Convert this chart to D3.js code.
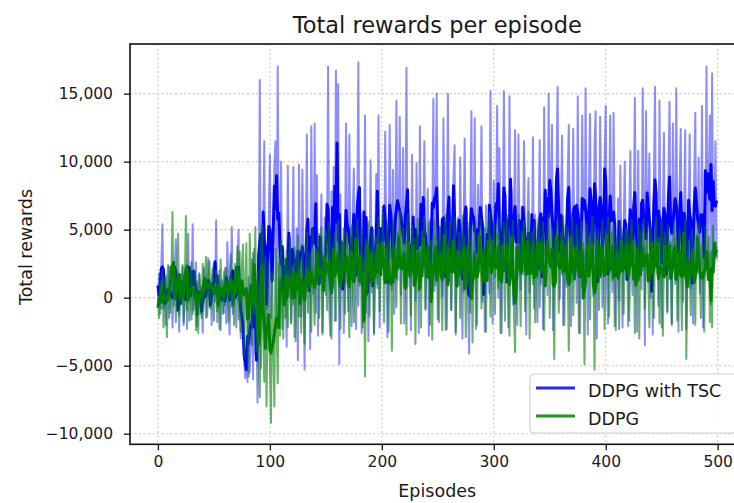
<!DOCTYPE html>
<html>
<head>
<meta charset="utf-8">
<script src="https://cdn.jsdelivr.net/npm/d3@7/dist/d3.min.js"></script>
<style>
  html, body { margin: 0; padding: 0; background: #fff; }
  svg { display: block; font-family: "DejaVu Sans", sans-serif; }
</style>
</head>
<body>
<svg id="chart" width="734" height="503"></svg>
<script>
// Total rewards per episode for the two agents (episodes 0..499)
const seriesNames = ["DDPG with TSC", "DDPG"];
const seriesColors = ["#0000ff", "#008000"];

const rewardsTSC = [
  0, 1800, -1200, 2200, 5400, -800, 1500, -2000, 900, 2400, -1500, 600, 1900, -2200, 300, 2100, 4300, -1000, 800, -2500,
  1600, -400, 2300, -1800, 700, 1200, -2300, 4700, 200, 1800, -1600, 5400, -900, 1300, 2600, -2100, 500, 1700, -1200, 800,
  -2600, 2200, 300, -1500, 1600, 2900, -700, 1100, -2000, 1400, 2500, -300, 5700, -1800, 900, 2000, -2400, 1300, 600, -1100,
  2200, -1900, 4100, 700, -2700, 1500, 5200, -1200, 1900, 300, -2200, 2600, 5000, -900, -3000, 1200, -2400, -4500, -5900, -3800,
  -6200, 1500, -5500, -3300, 2800, -6000, 3600, -4100, -2000, -7700, 1200, 16000, -5200, 3200, 4200, 11500, -3000, 2400, -800, 6000,
  10500, -1500, 1800, 3400, 9700, 11500, -1600, 17000, 1900, -300, 10000, -2300, 3600, 900, 2300, -3600, 9700, 100, 4400, -1800,
  2800, 9600, -2900, 1600, 5100, -4600, 9800, 1400, -1400, 9400, 3200, -5300, 1700, 12000, 800, 4500, -3800, 12600, 2200, 300,
  12800, -1100, 9000, -2800, 4700, 1100, 7600, -2500, 2600, 5900, 200, 3400, 17000, -800, -2800, 7800, 2500, 9600, -1700, 16700,
  1700, 15700, -4900, 7600, 600, 3900, -2600, 2100, 12800, 4300, -1000, 12000, 1500, -2100, 6200, 9500, 2700, -2300, 4600, 17300,
  900, 6100, -2600, 3700, 1800, 13400, -1100, 5400, -3200, 2800, 10100, 400, 4900, -2700, 3200, 9100, 1000, 13400, -2200, 4100,
  4400, 6700, 1300, 12200, 3600, -2900, 2700, 12700, 5000, 600, 9400, -1200, 3800, 14500, 1300, 5600, 13300, 200, 4400, 11000,
  -1900, 2900, 16900, 800, 6100, 3300, -2400, 10500, 2000, 5300, -200, 9900, 3500, -2600, 12600, 1600, 6400, 4200, 11500, -900,
  3000, 8000, -2800, 5700, 1400, 4800, 14600, 500, 6900, 15000, 2300, -1800, 5200, 3900, 100, 13200, 4300, -2400, 2700, 15000,
  1200, 6000, -900, 4700, 8800, 11200, -2500, 3400, 5900, 900, 10300, 2500, -3000, 4600, 11700, 1800, 6500, -600, -4100, 5200,
  13700, 700, 3800, 13200, -2300, 4100, 8300, 1900, 5400, 12600, -300, 3500, -2500, 6800, 2200, 4900, 300, 15200, 3100, -1900,
  8600, 1500, 5100, 14100, 0, 11000, 4000, -2600, 2800, 15200, 6200, 1100, 4600, -2200, 14800, 3300, 8000, -500, 5700, 12300,
  2100, -2000, 12000, 4400, 600, 6700, 1700, 11500, 3600, -2700, 5000, 8800, 400, 4200, 2300, 11800, -800, 6100, 3500, -1800,
  4700, 11600, 1000, 5900, -2300, 14000, 3100, 6600, 200, 15000, 2600, 8300, 12700, -2400, 4000, 1400, 9200, 15500, 3700, -100,
  6400, 11900, -2000, 2700, 5300, 800, 8600, 12700, 3000, -2100, 4800, 12400, 1600, 6000, -400, 14800, 4300, -2600, 2900, 13400,
  5600, 500, 15400, 3800, -2700, 8100, 13500, 2400, 5000, 100, 11300, 13700, -3000, 4500, 2000, 13300, 6800, -700, 3900, 10400,
  14100, 1300, -1900, 5800, 13400, 3200, 400, 13600, 4900, -2400, 2500, 7300, -200, 9700, 3600, -2200, 5100, 10000, 1900, 4200,
  -2100, 6000, 10800, 2600, 200, 5400, 14700, 3100, -2500, 10800, 1700, 4800, 600, 15400, 5500, -3500, 13700, 2800, 6600, 10600,
  0, 4100, -2700, 8200, 15500, 2300, 5200, -600, 14500, 3700, -2200, 6100, 12100, 1500, 4700, -1000, 8900, 14400, 3300, -1900,
  12800, 5400, 1000, 15400, 4000, -2500, 8300, 12400, 2500, -300, 6600, 12300, -2300, 3700, 5800, 12000, 700, 4400, -1900, 8500,
  13600, 2100, 5300, 10300, 300, 3900, 14100, -2200, 6400, 4600, 17000, 1600, 8800, 13400, -500, 16500, 3200, 5900, 11500, 2800
];

const rewardsDDPG = [
  0, -1500, 1200, -800, 2000, -2200, 900, 1600, -2900, 500, 2300, -1100, 1400, 6300, -600, 2100, -1800, 800, 4700, -1300,
  1700, -500, 2400, -2000, 1000, 6000, -900, 1900, -1700, 700, 2600, -1200, 300, 2000, -2400, 1200, -2600, 1800, 400, -1500,
  2500, -300, 1500, 3000, -1400, 900, 2700, -800, 1300, 2200, -1700, 600, 2000, -1000, 1600, -2300, 2800, 300, -1200, 1900,
  -600, 2200, 900, -1800, 1500, 3200, -700, 1100, -2000, 2500, 400, 3800, -1600, 3400, -2500, 2300, 3900, -4300, 1000, 4000,
  -3000, -5800, 4700, 1500, -3500, 3300, -1200, 5200, -4000, 2000, -5000, -7300, 4100, 5400, -2500, -6200, 3000, -8000, -1500, 2600,
  -4800, -9200, 1800, -3500, -8000, 3600, -1800, -6300, 2500, -2800, 4200, 800, -3000, 2900, -1500, 3500, -2200, 1000, 4400, -1900,
  2300, -500, 3700, -3200, 1500, 4600, -1400, 2700, -2600, 3900, 500, -3400, 2400, 4800, -1100, 1800, 3300, -2500, 5000, 700,
  -2000, 3600, 1600, 4500, -1500, 2800, 5200, -2700, 3100, 1200, 4900, -900, 2500, 5500, 200, -3000, 3800, 1900, 4700, -1700,
  3400, 5700, 600, -2300, 4200, 2200, 5100, -1200, 3000, 4600, 1400, -2900, 3900, 5300, 900, -1800, 4400, 2600, 5800, -600,
  3300, 1000, 4900, -2200, 2800, -5800, 4300, 2000, 5600, -1400, 3500, 1300, 5000, -2600, 2700, 4500, 700, 5900, -1000, 3600,
  2400, 6200, -1800, 3900, 1200, 5400, -2500, 4100, 2900, -3900, 5700, 1600, 3600, -700, 4800, 2300, 6400, -1900, 3200, 5100,
  800, 4000, -2700, 6100, 2600, 3400, -1300, 5300, 1800, 4300, -3400, 3000, 5800, 500, 3700, -2200, 4900, 2100, 6000, -800,
  3800, 1500, 5500, -2000, 4200, -3100, 3100, 5700, 900, 4600, -1600, 2800, 5200, 2000, -2400, 4400, 3300, 6100, -2300, 3900,
  1200, 5600, -900, 4100, 2500, 5900, -2700, 3500, 1700, 4800, -1500, 3200, 6000, 400, 4500, -2900, 3700, 2200, 5500, -1100,
  4200, -3300, 2700, 5300, 1900, -2000, 4700, 3000, 5800, -800, 3600, 1100, 5100, -2500, 3900, 2400, 6200, -1400, 4300, 2600,
  5400, -1200, 3100, 4700, 700, 5900, -2600, 3800, 2200, 5500, -1700, 4100, 6000, 1300, -2800, 4400, 3300, 5700, -900, -4000,
  3700, 1500, 6100, 2700, -2100, 4900, 3200, 5600, -1000, 4000, 2100, 6300, -3000, 3500, 4800, 1000, 5200, -1800, 3900, 2600,
  5800, -700, 4300, 2300, 5500, -2400, 3600, 1400, 4900, 6100, -1500, 3200, 5000, 2500, -4500, 4500, 3400, 5700, -1100, 2800,
  4700, 1700, 6000, -2000, 3800, 5200, 2400, -3900, 4400, 3000, 5900, -1300, 3500, 1900, 5300, 4100, -2600, 3300, 5600, 800,
  4000, -4900, 2900, 5400, 1800, 4600, -1600, 3700, 6000, 2100, -5300, 4300, 3100, 5000, -900, 3900, 1600, 5700, 2700, -2300,
  4500, 3400, 5900, -1400, 2800, 4800, 1300, 5300, -2100, 3700, 4400, 2200, -2300, 5500, 3000, 4100, -1200, 3600, 5100, 1900,
  4600, -1700, 3300, 5700, 2500, 4200, -2600, 3800, 1500, 5400, -3000, 4900, 3100, 2000, 5800, -800, 3600, 4700, 1200, -2200,
  5200, 2900, 4000, -1500, 3700, 5900, 1700, 4400, -1900, 3200, 5500, -2800, 2600, 4800, 3900, -1100, 5300, 2100, 4100, -2000,
  3500, 5600, 1400, 4300, -1700, 3000, 5100, 2300, -2400, 4700, 3800, 5800, -4500, 2700, 4200, 1600, -1300, 5000, 3300, 2000,
  -2000, 4600, 3100, 5500, 1800, -1500, 4000, 2900, -2500, 5200, 3700, 1300, 4500, -1800, 3400, -2200, 5300, 2500, 4100, 3000
];

const xTicks = [0, 100, 200, 300, 400, 500];
const yTicks = [-10000, -5000, 0, 5000, 10000, 15000];

const episodes = rewardsTSC.map((_, i) => i);

// centred moving average used for the heavy trend line
function movingAverage(values, win) {
  const half = Math.floor(win / 2);
  return values.map((_, i) =>
    d3.mean(values.slice(Math.max(0, i - half), Math.min(values.length, i + half + 1))));
}

const svg = d3.select("#chart");
const plot = { left: 130, top: 44, right: 744.5, bottom: 444.3 };

const x = d3.scaleLinear().domain([-24.95, 523.95]).range([plot.left, plot.right]);
const y = d3.scaleLinear().domain([-10780, 18650]).range([plot.bottom, plot.top]);

svg.append("defs").append("clipPath").attr("id", "plotClip")
  .append("rect")
  .attr("x", plot.left).attr("y", plot.top)
  .attr("width", plot.right - plot.left).attr("height", plot.bottom - plot.top);

// grid
const grid = svg.append("g").attr("stroke", "#c8c8c8").attr("stroke-width", 1.1)
  .attr("stroke-dasharray", "2,2.5");
grid.selectAll(".gx").data(xTicks).join("line")
  .attr("x1", d => x(d)).attr("x2", d => x(d))
  .attr("y1", plot.top).attr("y2", plot.bottom);
grid.selectAll(".gy").data(yTicks).join("line")
  .attr("x1", plot.left).attr("x2", plot.right)
  .attr("y1", d => y(d)).attr("y2", d => y(d));

// data lines: raw rewards (translucent) and short-window average (solid)
const lineGen = d3.line().x((d, i) => x(episodes[i])).y(d => y(d));
const layer = svg.append("g").attr("clip-path", "url(#plotClip)");
const allSeries = [rewardsTSC, rewardsDDPG];
allSeries.forEach((vals, k) => {
  layer.append("path").datum(vals)
    .attr("fill", "none").attr("stroke", seriesColors[k])
    .attr("stroke-opacity", k === 0 ? 0.45 : 0.6)
    .attr("stroke-width", 2).attr("stroke-linejoin", "round")
    .attr("d", lineGen);
  layer.append("path").datum(movingAverage(vals, 3))
    .attr("fill", "none").attr("stroke", seriesColors[k])
    .attr("stroke-width", 3).attr("stroke-linejoin", "round")
    .attr("d", lineGen);
});

// axes
const fontTick = 15.5;
const xAxis = d3.axisBottom(x).tickValues(xTicks).tickSize(6).tickPadding(6)
  .tickFormat(d3.format("d"));
const yAxis = d3.axisLeft(y).tickValues(yTicks).tickSize(6).tickPadding(11)
  .tickFormat(d3.format(","));

const gx = svg.append("g").attr("transform", `translate(0,${plot.bottom})`).call(xAxis);
const gy = svg.append("g").attr("transform", `translate(${plot.left},0)`).call(yAxis);
[gx, gy].forEach(g => {
  g.select(".domain").remove();
  g.selectAll(".tick line").attr("stroke", "#111").attr("stroke-width", 1.3);
  g.selectAll(".tick text").attr("fill", "#1a1a1a").attr("font-size", fontTick)
    .attr("font-family", "DejaVu Sans, sans-serif");
});

// spines
svg.append("rect")
  .attr("x", plot.left).attr("y", plot.top)
  .attr("width", plot.right - plot.left).attr("height", plot.bottom - plot.top)
  .attr("fill", "none").attr("stroke", "#111").attr("stroke-width", 1.6);

// titles
svg.append("text").attr("x", (plot.left + plot.right) / 2).attr("y", 33)
  .attr("text-anchor", "middle").attr("font-size", 22.5).attr("fill", "#1a1a1a")
  .text("Total rewards per episode");
svg.append("text").attr("x", (plot.left + plot.right) / 2).attr("y", 497)
  .attr("text-anchor", "middle").attr("font-size", 17.5).attr("fill", "#1a1a1a")
  .text("Episodes");
svg.append("text").attr("transform", "translate(32,247) rotate(-90)")
  .attr("text-anchor", "middle").attr("font-size", 17.5).attr("fill", "#1a1a1a")
  .text("Total rewards");

// legend
const legend = svg.append("g").attr("transform", "translate(530,374)");
legend.append("rect").attr("width", 215).attr("height", 59).attr("rx", 4)
  .attr("fill", "#fff").attr("fill-opacity", 0.85)
  .attr("stroke", "#d0d0d0").attr("stroke-width", 1.2);
seriesNames.forEach((name, k) => {
  const gy0 = 14 + k * 28;
  legend.append("line").attr("x1", 6).attr("x2", 45).attr("y1", gy0).attr("y2", gy0)
    .attr("stroke", seriesColors[k]).attr("stroke-opacity", 0.85).attr("stroke-width", 3);
  legend.append("text").attr("x", 58).attr("y", gy0 + 8.5)
    .attr("font-size", 17.5).attr("fill", "#1a1a1a").text(name);
});
</script>
</body>
</html>
